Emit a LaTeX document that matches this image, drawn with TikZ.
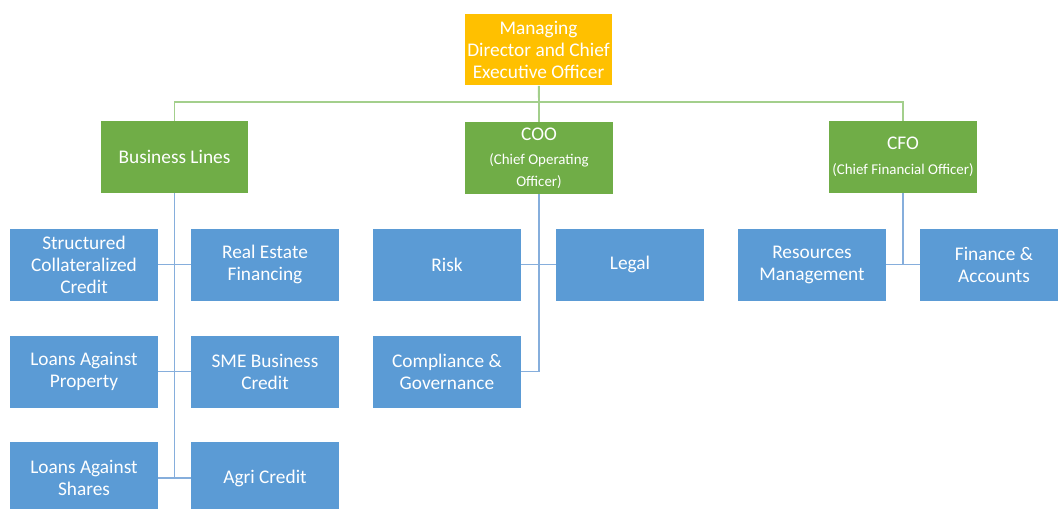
\documentclass[tikz,border=0pt]{standalone}
\usepackage{fontspec}
\setmainfont{Carlito}
\usepackage{tikz}
\definecolor{topbox}{HTML}{FFC000}
\definecolor{midbox}{HTML}{70AD47}
\definecolor{lowbox}{HTML}{5B9BD5}
\definecolor{midline}{HTML}{A3CF8C}
\definecolor{lowline}{HTML}{86AEDC}
\begin{document}
\begin{tikzpicture}[x=0.02cm,y=-0.02cm,
  unit/.style={text=white,align=center,inner sep=1pt,minimum width=2.96cm,minimum height=1.44cm,
    font=\fontsize{11}{12.5}\selectfont},
  head/.style={unit,fill=topbox},
  dept/.style={unit,fill=midbox},
  desk/.style={unit,fill=lowbox},
  gline/.style={draw=midline,line width=1.1pt},
  bline/.style={draw=lowline,line width=1.1pt}]
\clip (0,0) rectangle (1058,508);
\fill[white] (0,0) rectangle (1058,508);

\node[head] (md) at (538.5,49.5) {Managing\\Director and Chief\\Executive Officer};

\node[dept] (bl)  at (174.5,157) {Business Lines};
\node[dept] (coo) at (539,158) {COO\\[1pt]{\fontsize{8.5}{10}\selectfont(Chief Operating}\\{\fontsize{8.5}{10}\selectfont Officer)}};
\node[dept] (cfo) at (903,157) {CFO\\[2pt]{\fontsize{8.5}{10}\selectfont(Chief Financial Officer)}};

% business lines
\node[desk] (scc)  at (84,264.5)  {Structured\\Collateralized\\Credit};
\node[desk] (ref)  at (265,264.5) {Real Estate\\Financing};
\node[desk] (lap)  at (84,371.5)  {Loans Against\\Property};
\node[desk] (sme)  at (265,371.5) {SME Business\\Credit};
\node[desk] (las)  at (84,478)    {Loans Against\\Shares};
\node[desk] (agri) at (265,478)   {Agri Credit};

% coo
\node[desk] (risk)  at (447,264.5) {Risk};
\node[desk] (legal) at (630,264.5) {Legal};
\node[desk] (comp)  at (447,371.5) {Compliance \&\\Governance};

% cfo
\node[desk] (res) at (812,264.5) {Resources\\Management};
\node[desk] (fin) at (994,264.5) {Finance \&\\Accounts};

\coordinate (bus) at (539,102);
\draw[gline] (md) -- (bus);
\draw[gline] (bl.north) |- (bus) -| (cfo.north);
\draw[gline] (bus) -- (coo.north);

\draw[bline] (bl.south) -- (bl.south |- las.east);
\draw[bline] (scc.east) -- (ref.west);
\draw[bline] (lap.east) -- (sme.west);
\draw[bline] (las.east) -- (agri.west);

\draw[bline] (coo.south) -- (coo.south |- comp.east) -- (comp.east);
\draw[bline] (risk.east) -- (legal.west);

\draw[bline] (cfo.south) -- (cfo.south |- res.east);
\draw[bline] (res.east) -- (fin.west);
\end{tikzpicture}
\end{document}
